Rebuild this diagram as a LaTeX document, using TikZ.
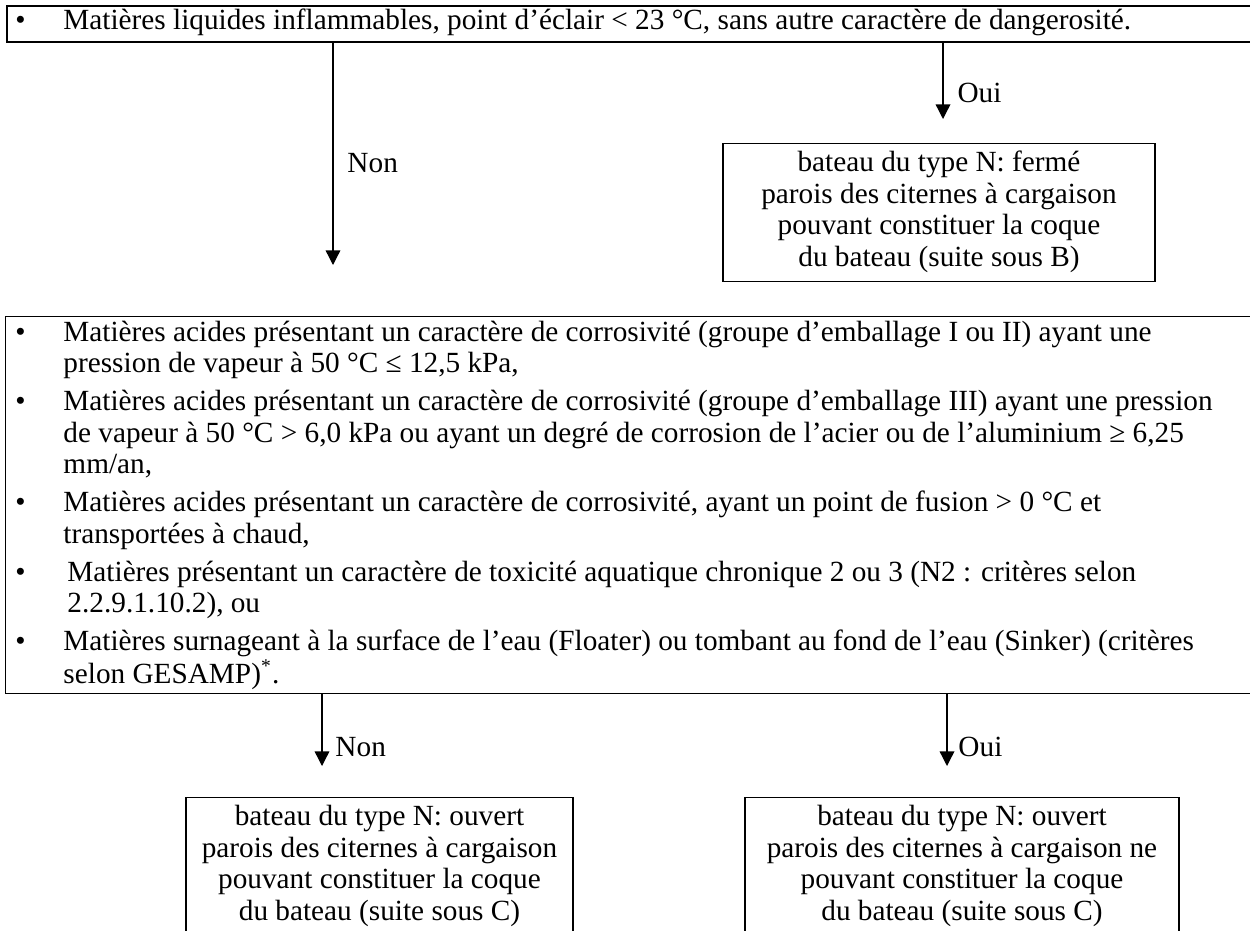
\documentclass[tikz,border=0pt]{standalone}
\usepackage{fontspec}
\setmainfont{Liberation Serif}
\usetikzlibrary{arrows.meta}
\newlength\upx \setlength\upx{0.41pt}
\begin{document}
\begin{tikzpicture}[x=0.41pt,y=-0.41pt,
  every node/.style={font=\fontsize{12pt}{12.9pt}\selectfont, inner sep=0pt},
  frame/.style={draw, line width=0.55pt, inner sep=0pt},
  arr/.style={line width=0.55pt, -{Triangle[width=6pt,length=6pt]}}]
\useasboundingbox[fill=white] (0,0) rectangle (1250,930);
\clip (0,0) rectangle (1250,930);
% top box
\node[frame, line width=0.9pt, anchor=north west, minimum width=1260\upx, minimum height=36\upx] (top) at (6,5) {};
\node[anchor=north west] (toptxt) at (15,7.25) {\begin{tabular}{@{}p{48\upx}@{}l@{}}\textbullet & Matières liquides inflammables, point d’éclair < 23 °C, sans autre caractère de dangerosité.\end{tabular}};
% arrows from top
\coordinate (nonA) at (333,265);
\draw[arr] (top.south -| nonA) -- (nonA);
\node[anchor=west] (lnon1) at (347,163) {Non};
\coordinate (ouiA) at (943,119);
\draw[arr] (top.south -| ouiA) -- (ouiA);
\node[anchor=west] (loui1) at (957,93) {Oui};
% box B
\node[frame, anchor=north, minimum width=432\upx, inner ysep=6\upx] (boxB) at (939,143) {\begin{tabular}{@{}c@{}}bateau du type N: fermé\\parois des citernes à cargaison\\pouvant constituer la coque\\du bateau (suite sous B)\end{tabular}};
% big box
\node[frame, anchor=north west, minimum width=1260\upx, minimum height=377\upx] (big) at (5,316) {};
\node[anchor=north west] (bigtxt) at (15,319) {\begin{tabular}{@{}p{48\upx}@{}l@{}}
\textbullet & Matières acides présentant un caractère de corrosivité (groupe d’emballage I ou II) ayant une\\
 & pression de vapeur à 50 °C ≤ 12,5 kPa,\\[6.5\upx]
\textbullet & Matières acides présentant un caractère de corrosivité (groupe d’emballage III) ayant une pression\\
 & de vapeur à 50 °C > 6,0 kPa ou ayant un degré de corrosion de l’acier ou de l’aluminium ≥ 6,25\\
 & mm/an,\\[6.5\upx]
\textbullet & Matières acides présentant un caractère de corrosivité, ayant un point de fusion > 0 °C et\\
 & transportées à chaud,\\[6.5\upx]
\textbullet & \hspace{4\upx}Matières présentant un caractère de toxicité aquatique chronique 2 ou 3 (N2 : critères selon\\
 & \hspace{4\upx}2.2.9.1.10.2), ou\\[6.5\upx]
\textbullet & Matières surnageant à la surface de l’eau (Floater) ou tombant au fond de l’eau (Sinker) (critères\\
 & selon GESAMP)\textsuperscript{*}.
\end{tabular}};
% arrows from big box
\coordinate (nonB) at (322,766);
\draw[arr] (big.south -| nonB) -- (nonB);
\node[anchor=west] (lnon2) at (335,747) {Non};
\coordinate (ouiB) at (947,766);
\draw[arr] (big.south -| ouiB) -- (ouiB);
\node[anchor=west] (loui2) at (958,747) {Oui};
% bottom boxes
\node[frame, anchor=north, minimum width=387\upx, inner ysep=6\upx] (boxC1) at (379.5,797) {\begin{tabular}{@{}c@{}}bateau du type N: ouvert\\parois des citernes à cargaison\\pouvant constituer la coque\\du bateau (suite sous C)\\\rule{0pt}{60\upx}\end{tabular}};
\node[frame, anchor=north, minimum width=434\upx, inner ysep=6\upx] (boxC2) at (962,797) {\begin{tabular}{@{}c@{}}bateau du type N: ouvert\\parois des citernes à cargaison ne\\pouvant constituer la coque\\du bateau (suite sous C)\\\rule{0pt}{60\upx}\end{tabular}};
\end{tikzpicture}
\end{document}
